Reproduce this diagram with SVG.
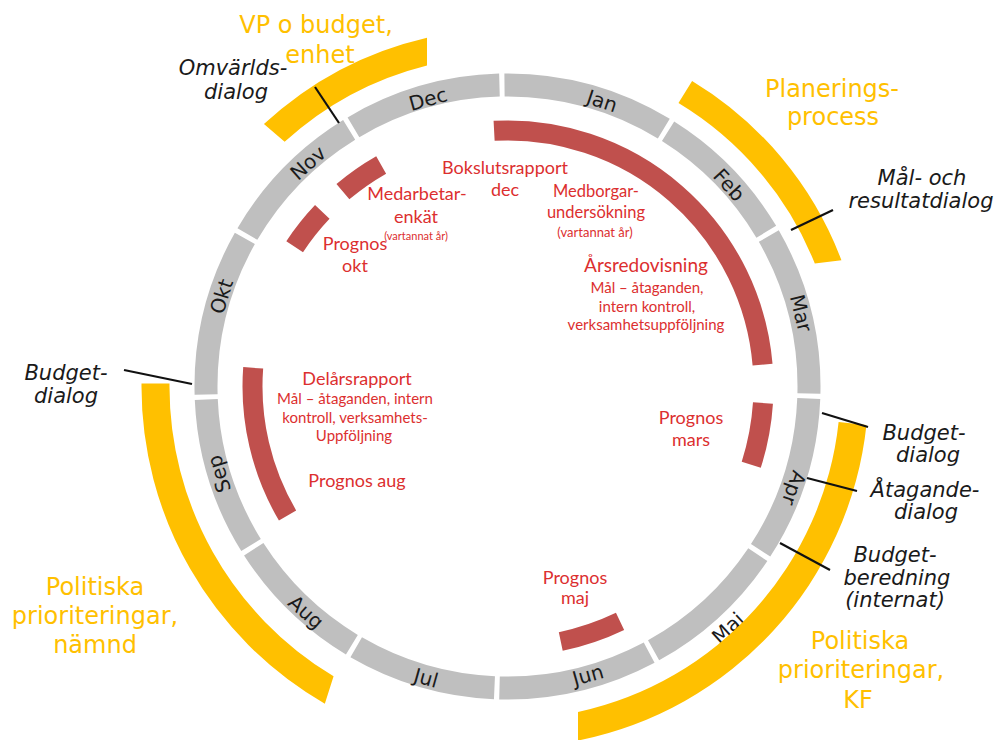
<svg xmlns="http://www.w3.org/2000/svg" width="996" height="740" viewBox="0 0 996 740">
<style>
.seg{fill:none;stroke:#BFBFBF;stroke-width:23}
.mon{font-family:"DejaVu Sans",sans-serif;font-size:20px;fill:#1a1a1a;text-anchor:middle;dominant-baseline:central}
.red{fill:none;stroke:#C0504D;stroke-width:20}
.yel{fill:#FFC000}
.yt{font-family:"DejaVu Sans",sans-serif;font-size:24px;fill:#FFC000;text-anchor:middle}
.bt{font-family:"DejaVu Sans",sans-serif;font-style:italic;font-size:21px;fill:#1a1a1a;text-anchor:middle}
.rt{font-family:Lato,"Liberation Sans",sans-serif;fill:#DC2F2F;text-anchor:middle}
.t18{font-size:18px}.t19{font-size:19px}.t16{font-size:16.5px}.t15{font-size:15px}.t11{font-size:11px}.t13{font-size:13px}
.tick{stroke:#111;stroke-width:2.2;fill:none}
</style>
<rect width="996" height="740" fill="#fff"/>
<g id="months">
<g id="m-jan"><path class="seg" d="M504.5,85.02 A301.5,301.5 0 0 1 663.8,128.63"/><text class="mon" transform="translate(602,101) rotate(18.3)">Jan</text></g>
<g id="m-feb"><path class="seg" d="M668.08,131.34 A301.5,301.5 0 0 1 766.28,231.77"/><text class="mon" transform="translate(729,185) rotate(47.7)">Feb</text></g>
<g id="m-mar"><path class="seg" d="M768.81,236.11 A301.5,301.5 0 0 1 808.92,393.45"/><text class="mon" transform="translate(801,313) rotate(76)">Mar</text></g>
<g id="m-apr"><path class="seg" d="M808.76,398.49 A301.5,301.5 0 0 1 760.61,550.34"/><text class="mon" transform="translate(794,488) rotate(109.5)">Apr</text></g>
<g id="m-maj"><path class="seg" d="M757.81,554.59 A301.5,301.5 0 0 1 653.58,650.25"/><text class="mon" transform="translate(728,628) rotate(-42.4)">Maj</text></g>
<g id="m-jun"><path class="seg" d="M649.15,652.63 A301.5,301.5 0 0 1 499.5,687.89"/><text class="mon" transform="translate(588,675) rotate(-15.6)">Jun</text></g>
<g id="m-jul"><path class="seg" d="M494.45,687.72 A301.5,301.5 0 0 1 356.21,647.3"/><text class="mon" transform="translate(426,678) rotate(15.6)">Jul</text></g>
<g id="m-aug"><path class="seg" d="M351.87,644.73 A301.5,301.5 0 0 1 253.73,549.28"/><text class="mon" transform="translate(306,612) rotate(41.8)">Aug</text></g>
<g id="m-sep"><path class="seg" d="M251.04,545.03 A301.5,301.5 0 0 1 206.28,399.55"/><text class="mon" transform="translate(219,474) rotate(-106.9)">Sep</text></g>
<g id="m-okt"><path class="seg" d="M206.11,394.5 A301.5,301.5 0 0 1 244.86,238.4"/><text class="mon" transform="translate(221.5,296.5) rotate(-72.5)">Okt</text></g>
<g id="m-nov"><path class="seg" d="M247.4,234.03 A301.5,301.5 0 0 1 349.15,129.89"/><text class="mon" transform="translate(308,163) rotate(-41.8)">Nov</text></g>
<g id="m-dec"><path class="seg" d="M353.46,127.3 A301.5,301.5 0 0 1 499.45,85.11"/><text class="mon" transform="translate(428,99) rotate(-15.5)">Dec</text></g>
</g>
<g id="reports">
<g id="r-bokslut"><path class="red" d="M494.1,130.85 A256,256 0 0 1 762.57,364.63"/>
<text class="rt t18" x="505" y="174">Bokslutsrapport</text><text class="rt t18" x="505" y="196">dec</text>
<text class="rt t16" x="596" y="197">Medborgar-</text><text class="rt t16" x="596" y="218">undersökning</text><text class="rt t13" x="595" y="237">(vartannat år)</text>
<text class="rt t19" x="646" y="272">Årsredovisning</text><text class="rt t15" x="647" y="293">Mål – åtaganden,</text><text class="rt t15" x="647" y="312">intern kontroll,</text><text class="rt t15" x="646" y="330">verksamhetsuppföljning</text></g>
<g id="r-mars"><path class="red" d="M762.97,403.02 A256,256 0 0 1 751.25,464.76"/>
<text class="rt t18" x="691" y="424">Prognos</text><text class="rt t18" x="691" y="446">mars</text></g>
<g id="r-maj"><path class="red" style="stroke-width:19" d="M620.05,621.43 A260.5,260.5 0 0 1 560.77,641.5"/>
<text class="rt t18" x="575" y="584">Prognos</text><text class="rt t18" x="575" y="604">maj</text></g>
<g id="r-delar"><path class="red" d="M287.56,515.54 A255,255 0 0 1 253.19,367.82"/>
<text class="rt t18" x="357" y="385">Delårsrapport</text><text class="rt t15" x="355" y="404">Mål – åtaganden, intern</text><text class="rt t15" x="355" y="423">kontroll, verksamhets-</text><text class="rt t15" x="354" y="441">Uppföljning</text>
<text class="rt t18" x="357" y="487">Prognos aug</text></g>
<g id="r-okt"><path class="red" d="M294.66,246.77 A254.5,254.5 0 0 1 322.28,211.96"/>
<text class="rt t18" x="355" y="250">Prognos</text><text class="rt t18" x="355" y="272">okt</text></g>
<g id="r-medarb"><path class="red" d="M342.91,191.73 A255,255 0 0 1 381.16,165"/>
<text class="rt t18" x="417" y="200">Medarbetar-</text><text class="rt t18" x="416" y="223">enkät</text><text class="rt t11" x="416" y="240">(vartannat år)</text></g>
</g>
<g id="processes">
<g id="p-vp"><path class="yel" d="M263.94,124.12 A358,358 0 0 1 427,37.67 L427,65.44 A331,331 0 0 0 284.63,141.78 Z"/>
<text class="yt" x="316" y="33">VP o budget,</text><text class="yt" x="320" y="63">enhet</text></g>
<g id="p-plan"><path class="yel" d="M692.11,80.94 A357,357 0 0 1 841.45,260.31 L814.83,263.58 A331,331 0 0 0 678.47,103.07 Z"/>
<text class="yt" x="832" y="97">Planerings-</text><text class="yt" x="833" y="125">process</text></g>
<g id="p-kf"><path class="yel" d="M866.45,424.92 A361,361 0 0 1 578,740.55 L578,711.95 A333,333 0 0 0 838.61,421.94 Z"/>
<text class="yt" x="860" y="649">Politiska</text><text class="yt" x="861" y="678">prioriteringar,</text><text class="yt" x="858" y="708">KF</text></g>
<g id="p-namnd"><path class="yel" d="M141.5,383.5 A366,366 0 0 0 324.83,703.66 L333.58,676.32 A338,338 0 0 1 169.5,383.5 Z"/>
<text class="yt" x="95" y="595">Politiska</text><text class="yt" x="95" y="624">prioriteringar,</text><text class="yt" x="95" y="653">nämnd</text></g>
</g>
<g id="dialogs">
<g id="d-omv"><text class="bt" x="233" y="75">Omvärlds-</text><text class="bt" x="236" y="99">dialog</text></g>
<g id="d-mal"><text class="bt" x="922" y="185">Mål- och</text><text class="bt" x="921" y="208">resultatdialog</text></g>
<g id="d-budget1"><text class="bt" x="66" y="380">Budget-</text><text class="bt" x="66" y="403">dialog</text></g>
<g id="d-budget2"><text class="bt" x="924" y="440">Budget-</text><text class="bt" x="928" y="462">dialog</text></g>
<g id="d-atag"><text class="bt" x="925" y="497">Åtagande-</text><text class="bt" x="926" y="519">dialog</text></g>
<g id="d-bered"><text class="bt" x="895" y="562">Budget-</text><text class="bt" x="897" y="585">beredning</text><text class="bt" x="895" y="607">(internat)</text></g>
</g>
<g id="connectors">
<line class="tick" x1="315" y1="87" x2="339" y2="123"/>
<line class="tick" x1="791" y1="230" x2="833" y2="210"/>
<line class="tick" x1="124" y1="370" x2="192" y2="384"/>
<line class="tick" x1="822" y1="413" x2="868" y2="427"/>
<line class="tick" x1="807" y1="478" x2="857" y2="491"/>
<line class="tick" x1="780" y1="543" x2="830" y2="570"/>
</g>
</svg>
